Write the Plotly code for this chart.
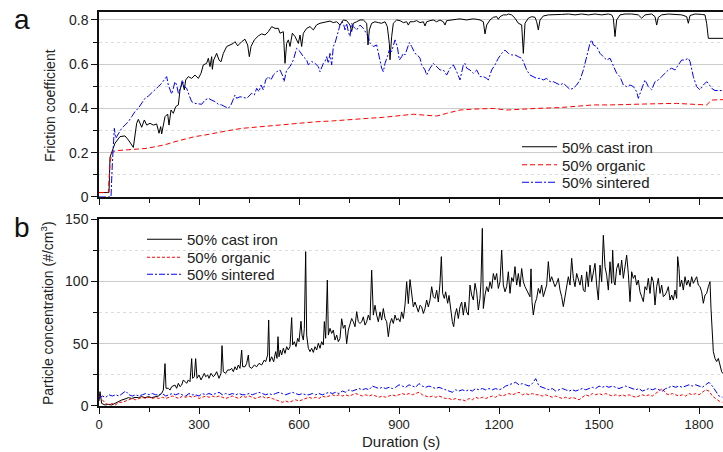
import plotly.graph_objects as go

# ---------------- Panel a: friction coefficient ----------------
fric_ci_t = [0,30,33,38,48,63,78,88,103,113,118,128,136,143,153,163,173,180,185,188,198,206,210,216,223,230,238,243,250,256,260,268,278,288,298,306,313,323,328,333,338,340,344,353,360,366,373,383,393,403,408,416,423,428,438,446,451,456,466,478,488,498,508,518,528,538,543,553,558,563,568,573,580,588,598,603,608,613,623,633,643,653,663,673,683,693,703,713,723,728,733,743,753,758,763,773,783,793,803,807,811,818,828,838,848,858,865,871,873,878,883,893,903,913,923,928,933,943,953,963,973,978,983,993,1003,1013,1023,1033,1038,1043,1053,1063,1073,1083,1093,1103,1113,1123,1133,1143,1153,1158,1163,1173,1183,1193,1198,1203,1213,1223,1228,1238,1248,1258,1268,1273,1278,1288,1298,1308,1313,1318,1323,1333,1348,1368,1388,1408,1428,1448,1468,1488,1508,1528,1538,1543,1548,1553,1563,1578,1598,1618,1628,1638,1658,1668,1673,1678,1688,1708,1728,1748,1763,1768,1773,1788,1808,1818,1823,1828,1872]
fric_ci_v = [0.02,0.02,0.18,0.20,0.243,0.273,0.276,0.258,0.224,0.333,0.351,0.315,0.348,0.325,0.333,0.325,0.330,0.288,0.318,0.285,0.363,0.375,0.325,0.393,0.378,0.408,0.416,0.484,0.52,0.484,0.529,0.544,0.536,0.551,0.536,0.559,0.597,0.604,0.627,0.589,0.634,0.577,0.619,0.649,0.619,0.611,0.649,0.68,0.687,0.694,0.702,0.683,0.694,0.702,0.713,0.687,0.634,0.68,0.71,0.728,0.737,0.732,0.747,0.77,0.762,0.762,0.74,0.747,0.604,0.694,0.71,0.68,0.74,0.725,0.694,0.732,0.68,0.74,0.762,0.77,0.755,0.778,0.785,0.788,0.792,0.795,0.788,0.792,0.777,0.792,0.80,0.797,0.777,0.748,0.785,0.792,0.80,0.80,0.785,0.687,0.755,0.785,0.792,0.788,0.785,0.792,0.77,0.694,0.62,0.725,0.785,0.80,0.797,0.788,0.792,0.777,0.792,0.792,0.797,0.788,0.792,0.773,0.792,0.797,0.80,0.792,0.80,0.792,0.777,0.797,0.80,0.80,0.803,0.805,0.803,0.80,0.803,0.805,0.803,0.80,0.792,0.737,0.777,0.80,0.812,0.815,0.803,0.815,0.823,0.823,0.827,0.823,0.808,0.785,0.778,0.649,0.785,0.808,0.815,0.812,0.792,0.755,0.80,0.818,0.823,0.823,0.825,0.827,0.823,0.827,0.823,0.827,0.823,0.827,0.823,0.808,0.725,0.80,0.823,0.827,0.827,0.823,0.808,0.823,0.827,0.815,0.777,0.812,0.823,0.827,0.825,0.823,0.815,0.785,0.82,0.827,0.825,0.823,0.785,0.717,0.717]

fric_org_t = [0,28,33,38,48,78,108,138,168,198,228,258,288,318,348,388,428,468,508,548,588,618,653,703,753,803,853,903,943,983,1013,1043,1083,1123,1183,1223,1263,1323,1383,1443,1483,1533,1583,1633,1693,1733,1793,1823,1838,1872]
fric_org_v = [0.02,0.02,0.152,0.197,0.209,0.212,0.215,0.219,0.227,0.236,0.25,0.261,0.273,0.28,0.29,0.30,0.31,0.315,0.322,0.328,0.331,0.336,0.340,0.344,0.348,0.355,0.36,0.366,0.374,0.369,0.366,0.378,0.393,0.397,0.40,0.393,0.397,0.401,0.404,0.41,0.416,0.416,0.419,0.42,0.422,0.423,0.418,0.416,0.438,0.44]

fric_sin_t = [0,36,40,46,50,58,68,78,88,98,108,118,128,138,148,158,168,178,188,198,203,208,213,218,223,228,233,238,246,250,256,263,270,278,288,298,308,318,328,338,348,358,368,378,388,396,403,408,413,423,433,443,450,458,466,473,480,486,493,500,508,516,523,533,543,550,555,563,573,583,593,603,613,623,628,638,648,658,663,673,678,683,688,693,698,703,708,713,718,723,728,733,738,743,748,753,758,763,773,783,793,803,808,813,823,833,841,848,853,858,865,871,878,883,888,895,901,908,913,918,923,931,938,948,955,963,968,978,983,993,1003,1013,1023,1033,1043,1053,1063,1073,1083,1093,1098,1103,1113,1123,1133,1143,1153,1163,1168,1178,1188,1198,1208,1218,1228,1238,1248,1258,1268,1273,1283,1293,1303,1313,1323,1333,1343,1353,1363,1373,1383,1393,1403,1413,1423,1433,1443,1453,1463,1473,1478,1483,1493,1503,1513,1523,1533,1543,1553,1563,1573,1583,1593,1603,1613,1618,1628,1638,1648,1658,1668,1678,1688,1698,1708,1718,1728,1738,1748,1758,1768,1773,1778,1783,1793,1803,1813,1823,1828,1838,1848,1872]
fric_sin_v = [0.0,0.0,0.15,0.31,0.265,0.288,0.310,0.325,0.340,0.363,0.386,0.401,0.423,0.446,0.456,0.469,0.484,0.499,0.514,0.536,0.544,0.506,0.484,0.465,0.491,0.521,0.506,0.469,0.499,0.529,0.499,0.491,0.461,0.431,0.423,0.42,0.419,0.438,0.446,0.438,0.431,0.419,0.416,0.408,0.401,0.416,0.438,0.461,0.446,0.453,0.45,0.446,0.456,0.469,0.461,0.491,0.476,0.506,0.484,0.529,0.544,0.529,0.551,0.566,0.574,0.551,0.521,0.574,0.589,0.619,0.672,0.657,0.634,0.619,0.597,0.612,0.604,0.589,0.566,0.604,0.612,0.634,0.604,0.649,0.597,0.68,0.695,0.725,0.747,0.777,0.792,0.785,0.755,0.785,0.747,0.725,0.785,0.77,0.755,0.777,0.762,0.74,0.725,0.695,0.68,0.687,0.634,0.582,0.566,0.604,0.634,0.664,0.657,0.68,0.71,0.68,0.619,0.634,0.649,0.642,0.664,0.698,0.68,0.649,0.642,0.627,0.597,0.574,0.551,0.582,0.604,0.589,0.574,0.574,0.551,0.582,0.597,0.567,0.529,0.597,0.604,0.582,0.574,0.559,0.574,0.544,0.544,0.536,0.529,0.574,0.597,0.627,0.649,0.664,0.649,0.642,0.642,0.634,0.627,0.612,0.574,0.551,0.544,0.536,0.536,0.529,0.536,0.521,0.521,0.514,0.506,0.514,0.499,0.486,0.491,0.506,0.529,0.574,0.634,0.695,0.71,0.687,0.68,0.649,0.634,0.619,0.627,0.589,0.559,0.544,0.506,0.499,0.506,0.499,0.476,0.446,0.491,0.529,0.499,0.484,0.521,0.529,0.544,0.559,0.574,0.582,0.574,0.597,0.619,0.619,0.627,0.612,0.574,0.544,0.499,0.484,0.506,0.521,0.514,0.491,0.481,0.481]

# ---------------- Panel b: particle concentration ----------------
conc_ci_t = [0,3,8,18,28,38,48,58,68,78,88,98,108,118,128,138,148,158,168,178,188,193,198,201,208,213,218,228,233,238,243,248,253,258,263,268,273,278,281,286,290,294,300,306,310,316,320,326,330,336,343,348,353,360,366,369,373,380,386,393,398,403,408,413,418,423,428,431,438,443,448,451,458,466,473,480,488,496,500,506,509,512,518,524,530,534,537,540,544,548,553,558,563,568,573,578,581,586,591,596,600,606,609,613,616,620,623,628,633,638,643,648,653,658,663,668,673,676,680,685,688,693,698,703,708,713,718,723,728,733,738,743,748,753,758,763,768,773,778,783,788,793,798,803,808,813,818,823,828,833,838,843,848,853,858,863,868,873,878,883,888,893,898,903,908,913,918,923,928,933,938,943,948,953,958,963,968,973,978,983,988,993,998,1003,1008,1013,1018,1023,1027,1031,1036,1040,1046,1050,1056,1060,1064,1068,1073,1078,1083,1088,1093,1098,1103,1108,1113,1118,1123,1128,1133,1138,1143,1146,1150,1153,1158,1163,1168,1173,1178,1183,1188,1193,1198,1203,1208,1213,1218,1223,1228,1233,1238,1243,1248,1253,1258,1263,1268,1273,1278,1283,1288,1293,1296,1299,1303,1308,1313,1318,1323,1328,1333,1338,1343,1348,1353,1358,1363,1368,1373,1378,1383,1388,1393,1398,1403,1408,1413,1418,1423,1428,1433,1438,1443,1448,1453,1458,1463,1468,1473,1478,1483,1488,1493,1498,1503,1508,1513,1518,1523,1528,1533,1538,1541,1545,1548,1553,1558,1563,1568,1573,1578,1583,1588,1593,1598,1603,1608,1613,1618,1623,1628,1633,1638,1643,1648,1653,1658,1663,1668,1673,1678,1683,1688,1693,1698,1703,1708,1713,1718,1723,1728,1733,1736,1740,1743,1748,1753,1758,1763,1768,1773,1778,1783,1788,1793,1798,1803,1808,1813,1818,1823,1828,1833,1836,1839,1843,1848,1853,1858,1863,1868,1872]
conc_ci_v = [4,11.5,2.1,0.8,1.3,0.8,2.1,3.5,4.8,5.6,6.7,6.1,6.9,6.7,7.5,6.7,7.5,6.7,7.5,8.0,10.2,12.8,34.0,14.2,14.2,12.8,15.5,16.8,14.2,18.2,15.5,16.8,20.9,19.5,18.2,20.9,19.5,38.0,22.2,23.5,38.0,22.2,24.9,20.9,23.5,26.2,23.5,24.9,22.2,26.2,23.5,24.9,27.5,22.2,26.2,48.4,27.5,26.2,28.9,28.9,30.2,27.5,31.5,28.9,32.9,30.2,44.9,31.5,31.5,34.2,40.9,31.5,30.2,32.9,31.5,34.2,32.9,36.9,35.5,40.9,69.0,35.5,39.5,35.5,43.6,38.2,55.6,39.5,44.9,40.9,46.3,42.2,47.6,44.9,47.6,70.9,48.9,51.6,47.6,54.3,51.6,68.0,56.9,52.9,62.3,123.8,56.9,46.3,43.6,46.3,43.0,47.6,44.9,50.3,46.3,51.6,48.9,67.7,54.3,101.0,56.9,62.3,58.2,60.9,52.9,56.9,51.6,54.3,70.0,62.3,64.9,50.0,60.9,64.9,70.2,67.6,63.6,75.7,67.6,66.2,67.6,71.5,64.9,67.6,72.9,68.9,109.0,72.9,80.8,72.9,67.6,75.5,68.9,78.2,70.2,67.6,55.6,66.2,70.2,66.2,72.9,68.9,70.2,67.6,75.5,70.2,81.0,99.7,82.1,101.4,89.5,79.5,83.4,79.5,75.5,80.8,79.5,74.2,78.2,85.0,79.5,85.0,95.7,87.7,86.3,92.9,83.4,98.4,119.8,90.3,86.3,91.6,82.4,88.7,75.5,67.7,63.6,72.9,78.2,70.2,79.5,83.4,72.9,83.4,75.5,72.9,97.0,89.0,85.0,98.4,91.6,77.0,86.3,99.7,142.5,78.2,89.0,95.7,91.6,99.7,94.3,106.3,101.0,106.3,94.3,99.7,125.0,97.0,91.6,95.7,107.7,90.4,103.0,99.7,111.8,97.0,106.3,95.7,110.3,99.7,95.7,93.0,91.6,87.6,110.0,83.7,73.0,82.4,86.3,94.3,90.3,97.0,87.7,93.0,97.0,115.8,99.7,103.7,99.7,95.7,98.4,102.4,93.0,87.7,79.7,89.0,94.3,103.7,97.0,118.5,102.4,95.7,106.3,101.0,97.0,105.0,93.0,91.6,107.7,95.7,113.0,99.7,109.0,114.4,97.0,85.0,113.0,99.7,137.0,111.7,105.0,93.0,115.7,98.4,125.0,99.7,97.0,110.3,114.4,105.0,117.1,102.4,111.7,121.0,106.3,83.7,107.7,102.4,105.0,97.0,101.0,91.6,87.7,83.7,95.7,93.0,102.4,90.3,103.7,99.7,81.0,95.7,102.4,90.3,97.0,87.7,89.0,91.6,95.7,85.0,89.0,85.0,93.0,86.3,119.8,110.3,95.7,101.0,93.0,103.7,97.0,101.0,95.7,103.7,98.4,101.0,103.7,97.0,95.7,91.6,82.4,89.0,90.3,95.7,99.7,78.0,62.3,43.6,38.2,35.6,38.2,32.9,27.5,26.0]

conc_t = [0,10,20,30,40,50,60,70,80,90,100,110,120,130,140,150,160,170,180,190,200,210,220,230,240,250,260,270,280,290,300,310,320,330,340,350,360,370,380,390,400,410,420,430,440,450,460,470,480,490,500,510,520,530,540,550,560,570,580,590,600,610,620,630,640,650,660,670,680,690,700,710,720,730,740,750,760,770,780,790,800,810,820,830,840,850,860,870,880,890,900,910,920,930,940,950,960,970,980,990,1000,1010,1020,1030,1040,1050,1060,1070,1080,1090,1100,1110,1120,1130,1140,1150,1160,1170,1180,1190,1200,1210,1220,1230,1240,1250,1260,1270,1280,1290,1300,1310,1320,1330,1340,1350,1360,1370,1380,1390,1400,1410,1420,1430,1440,1450,1460,1470,1480,1490,1500,1510,1520,1530,1540,1550,1560,1570,1580,1590,1600,1610,1620,1630,1640,1650,1660,1670,1680,1690,1700,1710,1720,1730,1740,1750,1760,1770,1780,1790,1800,1810,1820,1830,1840,1850,1860,1870]
conc_org_v = [8,5,2,1,2,1,3,3,4,5,6,5,6,7,6,7,6,7,6,7,6,7,8,7,6,8,7,8,7,8,6,7,8,7,8,7,8,7,6,7,8,7,6,8,7,8,7,6,7,8,6,7,6,5,4,3,4,3,4,5,4,5,6,7,6,7,6,8,7,8,9,8,9,8,9,8,9,10,9,8,9,8,9,8,7,8,7,8,9,8,9,10,9,10,9,10,11,9,8,7,8,7,8,7,6,6,5,6,5,5,4,6,5,7,6,7,6,7,8,7,9,8,9,10,9,10,11,9,10,9,10,9,9,8,9,8,7,8,7,6,7,6,7,6,5,7,9,8,10,9,10,9,10,9,8,9,8,9,8,9,8,7,8,9,8,9,8,10,12,14,10,9,10,9,8,9,8,10,9,10,9,11,13,12,8,6,4,3]
conc_sin_v = [6,8,7,9,8,9,8,10,12,9,8,9,8,9,10,9,10,9,9,10,8,9,10,9,10,9,8,10,9,9,8,10,9,10,9,10,11,9,10,9,10,9,10,9,9,10,9,10,11,10,9,10,9,10,11,10,9,10,11,10,9,10,9,9,10,9,10,9,10,11,10,11,10,12,11,13,12,13,14,13,14,13,16,15,14,15,14,15,14,15,17,16,15,17,16,15,18,16,15,16,15,14,15,14,13,12,11,13,12,13,12,13,12,14,13,14,13,14,13,14,13,14,16,17,18,19,17,18,17,16,18,22,16,15,14,13,14,12,13,14,13,12,13,12,13,14,13,14,15,14,16,15,16,15,16,15,14,15,16,15,14,13,14,12,13,14,13,14,13,12,14,15,16,15,16,15,16,17,16,17,16,15,17,19,16,12,8,7]

names = ["50% cast iron", "50% organic", "50% sintered"]
colors = ["#000000", "#ff0000", "#0000ff"]
dashes_top = ["solid", "5px,3px", "7px,2px,2px,2px"]
dashes_bot = ["solid", "3px,2px", "6px,2px,2px,2px"]

FONT = "Liberation Sans, Arial, sans-serif"
fig = go.Figure()

def pa(px):
    return (px - 99) / 624

def pb(py):
    return (406 - py) / 394

top_legends = ["legend", "legend3", "legend4"]
bot_legends = ["legend2", "legend5", "legend6"]
top_rows = [147, 165, 182.5]
bot_rows = [239.5, 257.5, 274.5]

# top panel (a)
top_data = [(fric_ci_t, fric_ci_v), (fric_org_t, fric_org_v), (fric_sin_t, fric_sin_v)]
for (tx, vy), n, c, d, lg in zip(top_data, names, colors, dashes_top, top_legends):
    fig.add_trace(go.Scatter(x=tx, y=vy, name=n, mode="lines",
                             line=dict(color=c, width=1.0, dash=d),
                             xaxis="x2", yaxis="y2", legend=lg))

# bottom panel (b)
bot_data = [(conc_ci_t, conc_ci_v), (conc_t, conc_org_v), (conc_t, conc_sin_v)]
for (tx, vy), n, c, d, lg in zip(bot_data, names, colors, dashes_bot, bot_legends):
    fig.add_trace(go.Scatter(x=tx, y=vy, name=n, mode="lines",
                             line=dict(color=c, width=1.0, dash=d),
                             xaxis="x", yaxis="y", legend=lg))

x_ticks = [0, 300, 600, 900, 1200, 1500, 1800]
axis_common = dict(showline=True, linecolor="#111", linewidth=1.5, ticks="outside",
                   tickcolor="#111", ticklen=6, tickwidth=1.2, zeroline=False)
minor_x = dict(dtick=150, ticks="outside", ticklen=4, tickcolor="#111", showgrid=False)

layout = dict(
    width=723, height=452,
    margin=dict(l=99, r=0, t=12, b=46),
    paper_bgcolor="white", plot_bgcolor="white",
    font=dict(family=FONT, size=14, color="#222"),
    showlegend=True,
    xaxis=dict(domain=[0, 1], range=[0, 1872], anchor="y", tickvals=x_ticks,
               mirror=True, showgrid=False, minor=minor_x,
               tickfont=dict(family=FONT, size=13, color="#222"), **axis_common),
    yaxis=dict(domain=[0, 0.4746], range=[0, 150], anchor="x", tickvals=[0, 50, 100, 150],
               showgrid=True, gridcolor="#cccccc", gridwidth=1,
               minor=dict(dtick=25, ticks="outside", ticklen=4, tickcolor="#111",
                          showgrid=True, gridcolor="#dddddd", griddash="dot"),
               tickfont=dict(family=FONT, size=14, color="#222"), **axis_common),
    xaxis2=dict(domain=[0, 1], range=[0, 1872], anchor="y2", tickvals=x_ticks,
                showticklabels=False, mirror=True, showgrid=False, minor=minor_x,
                **axis_common),
    yaxis2=dict(domain=[0.5305, 1], range=[0, 0.836], anchor="x2",
                tickvals=[0, 0.2, 0.4, 0.6, 0.8], ticktext=["0", "0.2", "0.4", "0.6", "0.8"],
                showgrid=True, gridcolor="#cccccc", gridwidth=1,
                minor=dict(dtick=0.1, ticks="outside", ticklen=4, tickcolor="#111",
                           showgrid=True, gridcolor="#dddddd", griddash="dot"),
                tickfont=dict(family=FONT, size=14, color="#222"), **axis_common),
)
for lg, row in zip(top_legends, top_rows):
    layout[lg] = dict(x=pa(517), y=pb(row), xanchor="left", yanchor="middle",
                      bgcolor="rgba(0,0,0,0)", font=dict(family=FONT, size=15, color="#222"),
                      itemwidth=35)
for lg, row in zip(bot_legends, bot_rows):
    layout[lg] = dict(x=pa(142), y=pb(row), xanchor="left", yanchor="middle",
                      bgcolor="rgba(0,0,0,0)", font=dict(family=FONT, size=15, color="#222"),
                      itemwidth=35)
fig.update_layout(**layout)

annots = [
    dict(text="a", x=pa(22), y=pb(19), font=dict(size=28, color="#111")),
    dict(text="b", x=pa(22), y=pb(227), font=dict(size=28, color="#111")),
    dict(text="Friction coefficient", x=pa(50), y=pb(106), textangle=-90, font=dict(size=14)),
    dict(text="Particle concentration (#/cm<sup>3</sup>)", x=pa(47), y=pb(313), textangle=-90, font=dict(size=14)),
    dict(text="Duration (s)", x=pa(401), y=pb(441), font=dict(size=15)),
]
for a in annots:
    fig.add_annotation(xref="paper", yref="paper", showarrow=False,
                       xanchor="center", yanchor="middle",
                       font_family=FONT, **a)

fig.write_html("out.html", config={"displayModeBar": False},
               post_script="document.body.style.margin='0px';")
